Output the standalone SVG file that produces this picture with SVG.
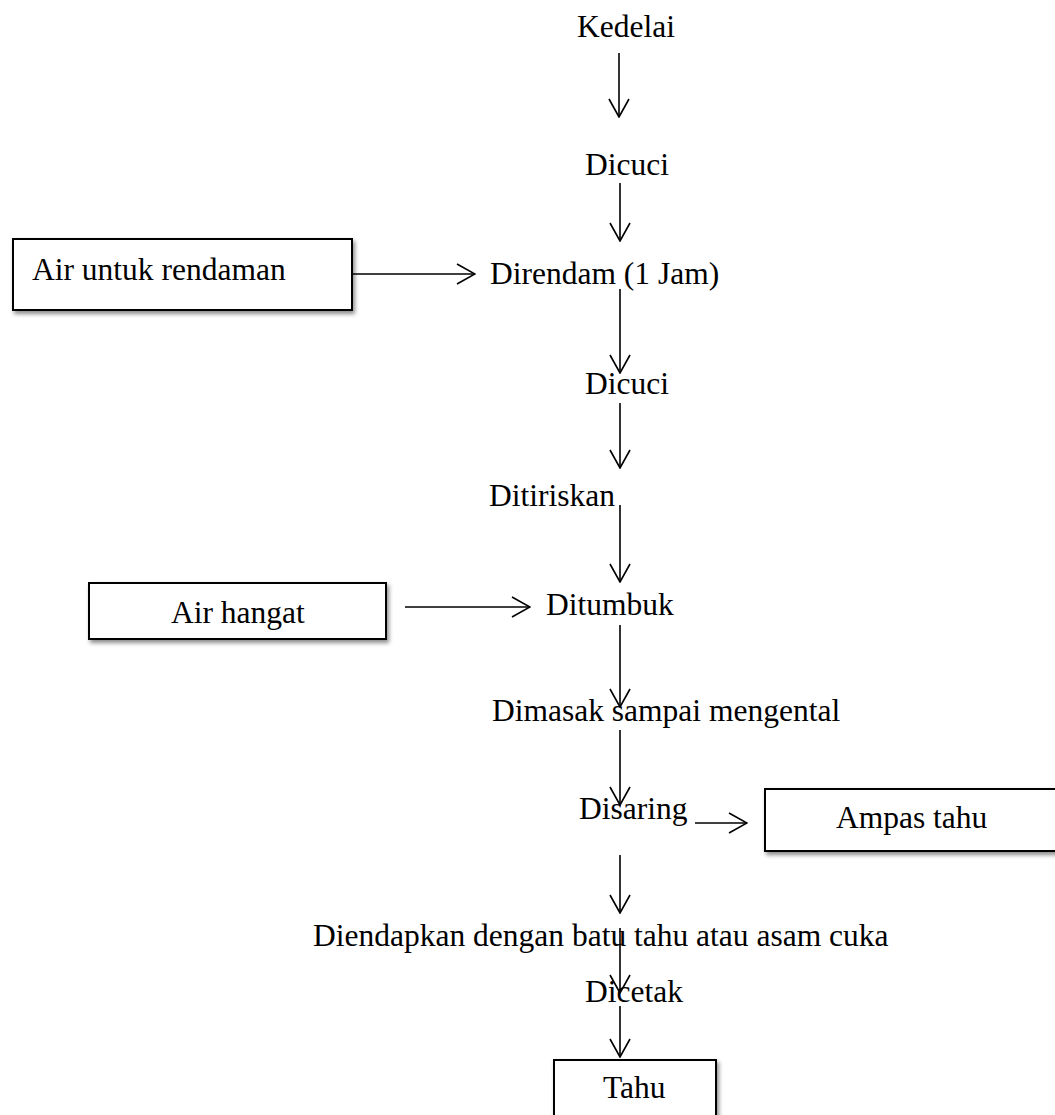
<svg xmlns="http://www.w3.org/2000/svg" width="1055" height="1115" viewBox="0 0 1055 1115">
<style>
text{font-family:"Liberation Serif","Times New Roman",serif;font-size:31.5px;fill:#000}
.box{fill:#fff;stroke:#000;stroke-width:2;filter:url(#sh)}
.ln{stroke:#000;stroke-width:1.6;fill:none}
</style>
<defs>
<filter id="sh" x="-10%" y="-20%" width="130%" height="160%">
<feDropShadow dx="2" dy="3" stdDeviation="2" flood-color="#000" flood-opacity="0.45"/>
</filter>
<marker id="ah" viewBox="0 0 20 22" refX="19" refY="11" markerWidth="20" markerHeight="22" markerUnits="userSpaceOnUse" orient="auto">
<path d="M1,1 L19,11 L1,21" fill="none" stroke="#000" stroke-width="1.6"/>
</marker>
</defs>
<rect width="1055" height="1115" fill="#fff"/>
<g id="n-kedelai"><text x="577" y="37">Kedelai</text></g>
<g id="n-dicuci1"><text x="585" y="175">Dicuci</text></g>
<g id="n-air-rendaman"><rect class="box" x="13" y="239" width="339" height="71"/><text x="32" y="280">Air untuk rendaman</text></g>
<g id="n-direndam"><text x="490" y="284">Direndam (1 Jam)</text></g>
<g id="n-dicuci2"><text x="585" y="394">Dicuci</text></g>
<g id="n-ditiriskan"><text x="489" y="506">Ditiriskan</text></g>
<g id="n-air-hangat"><rect class="box" x="89" y="583" width="297" height="56"/><text x="171" y="623">Air hangat</text></g>
<g id="n-ditumbuk"><text x="546" y="615">Ditumbuk</text></g>
<g id="n-dimasak"><text x="492" y="721">Dimasak sampai mengental</text></g>
<g id="n-disaring"><text x="579" y="819">Disaring</text></g>
<g id="n-ampas"><rect class="box" x="765" y="789" width="300" height="62"/><text x="836" y="828">Ampas tahu</text></g>
<g id="n-diendapkan"><text x="313" y="946">Diendapkan dengan batu tahu atau asam cuka</text></g>
<g id="n-dicetak"><text x="585" y="1002">Dicetak</text></g>
<g id="n-tahu"><rect class="box" x="554" y="1060" width="162" height="70"/><text x="603" y="1098">Tahu</text></g>
<g id="connectors">
<line class="ln" x1="619" y1="53" x2="619" y2="117" marker-end="url(#ah)"/>
<line class="ln" x1="620" y1="183" x2="620" y2="241" marker-end="url(#ah)"/>
<line class="ln" x1="353" y1="274" x2="475" y2="274" marker-end="url(#ah)"/>
<line class="ln" x1="620" y1="289" x2="620" y2="373" marker-end="url(#ah)"/>
<line class="ln" x1="620" y1="403" x2="620" y2="468" marker-end="url(#ah)"/>
<line class="ln" x1="620" y1="505" x2="620" y2="582" marker-end="url(#ah)"/>
<line class="ln" x1="405" y1="607" x2="530" y2="607" marker-end="url(#ah)"/>
<line class="ln" x1="620" y1="625" x2="620" y2="707" marker-end="url(#ah)"/>
<line class="ln" x1="620" y1="730" x2="620" y2="805" marker-end="url(#ah)"/>
<line class="ln" x1="695" y1="823" x2="747" y2="823" marker-end="url(#ah)"/>
<line class="ln" x1="620" y1="855" x2="620" y2="913" marker-end="url(#ah)"/>
<line class="ln" x1="620" y1="928" x2="620" y2="993" marker-end="url(#ah)"/>
<line class="ln" x1="620" y1="1006" x2="620" y2="1057" marker-end="url(#ah)"/>
</g>
</svg>
